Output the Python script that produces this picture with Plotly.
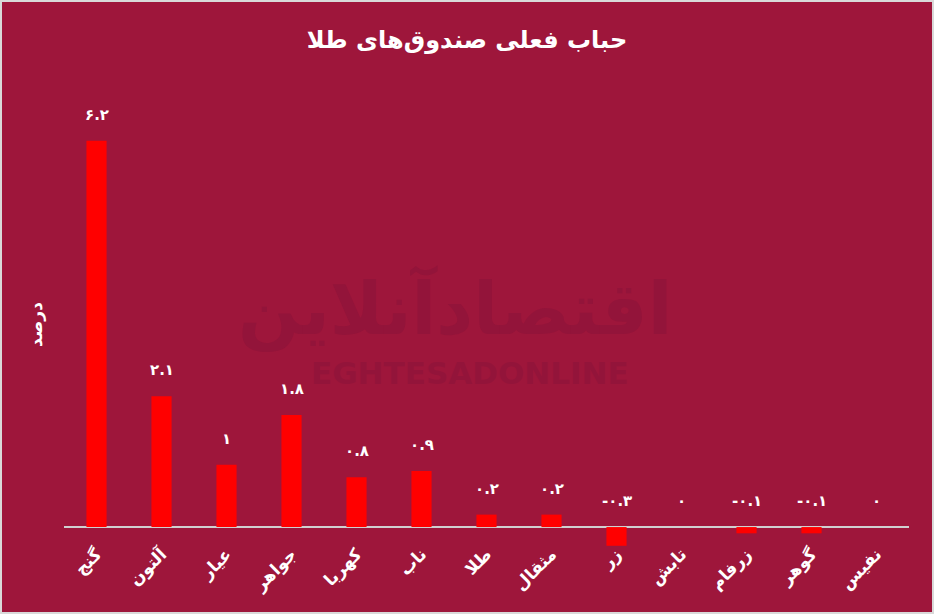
import plotly.graph_objects as go

categories = ["گنج", "آلتون", "عیار", "جواهر", "کهربا", "ناب", "طلا", "مثقال", "زر", "تابش", "زرفام", "گوهر", "نفیس"]
values = [6.2, 2.1, 1, 1.8, 0.8, 0.9, 0.2, 0.2, -0.3, 0, -0.1, -0.1, 0]
value_labels = ["۶.۲", "۲.۱", "۱", "۱.۸", "۰.۸", "۰.۹", "۰.۲", "۰.۲", "-۰.۳", "۰", "-۰.۱", "-۰.۱", "۰"]
title_text = "حباب فعلی صندوق‌های طلا"
y_title = "درصد"
watermark_fa = "اقتصادآنلاین"
watermark_en = "EGHTESADONLINE"

BG = "#9E163B"
WM = "#93143A"
FONT = "DejaVu Sans"

W, H = 934, 614
ml, mr, mt, mb = 64, 25, 97, 62
pw, ph = W - ml - mr, H - mt - mb

fig = go.Figure()
fig.add_trace(go.Bar(x=categories, y=values, marker_color="#FF0000",
                     marker_line_width=0, width=0.31, hoverinfo="skip"))

# faint watermark
fig.add_annotation(xref="paper", yref="paper", x=(455 - ml) / pw, y=(H - mb - 308) / ph,
                   text="<b>" + watermark_fa + "</b>", showarrow=False,
                   font=dict(family=FONT, size=72, color=WM))
fig.add_annotation(xref="paper", yref="paper", x=(470 - ml) / pw, y=(H - mb - 373) / ph,
                   text="<b>" + watermark_en + "</b>", showarrow=False,
                   font=dict(family=FONT, size=31, color=WM))

for c, v, t in zip(categories, values, value_labels):
    fig.add_annotation(x=c, y=max(v, 0), text="<b>" + t + "</b>", showarrow=False,
                       yanchor="bottom", yshift=15,
                       font=dict(family=FONT, size=15, color="white"))

fig.add_shape(type="rect", xref="paper", yref="paper",
              x0=(-ml + 1) / pw, x1=1 + (mr - 1) / pw,
              y0=(-mb + 1) / ph, y1=1 + (mt - 1) / ph,
              line=dict(color="#D9D9D9", width=2), layer="below")

fig.update_layout(
    width=W, height=H,
    margin=dict(l=ml, r=mr, t=mt, b=mb),
    paper_bgcolor=BG, plot_bgcolor=BG,
    showlegend=False,
    title=dict(text="<b>" + title_text + "</b>", x=0.5, xanchor="center",
               y=1 - 40 / H, yanchor="middle",
               font=dict(family=FONT, size=24, color="white")),
    xaxis=dict(showgrid=False, showline=False, ticks="", tickangle=-45,
               tickmode="array", tickvals=categories,
               ticktext=["<b>" + c + "</b>" for c in categories],
               tickfont=dict(family=FONT, size=17, color="white"),
               anchor="free", position=12 / ph,
               automargin=False, fixedrange=True),
    yaxis=dict(range=[-0.4, 6.9], domain=[0, 1], showgrid=False,
               showticklabels=False, ticks="",
               zeroline=True, zerolinecolor="#D0D0D0", zerolinewidth=2,
               title=dict(text="<b>" + y_title + "</b>", standoff=16,
                          font=dict(family=FONT, size=17, color="white")),
               automargin=False, fixedrange=True),
)

fig.write_html("out.html", config={"displayModeBar": False},
               post_script="document.body.style.margin='0';document.body.style.overflow='hidden';")
